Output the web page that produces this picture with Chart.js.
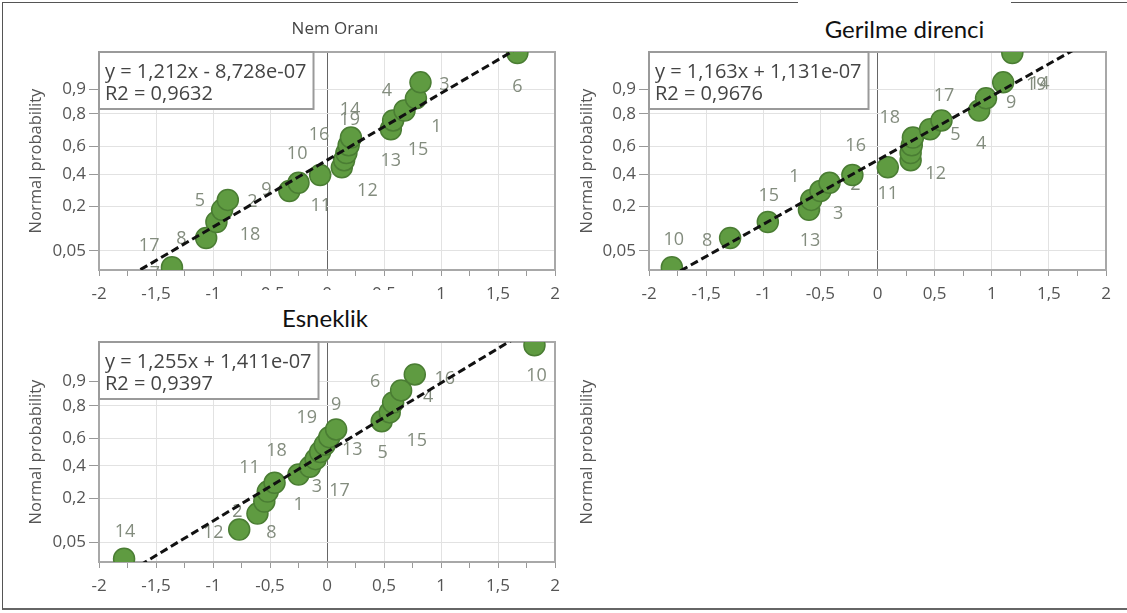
<!DOCTYPE html>
<html>
<head>
<meta charset="utf-8">
<script src="https://cdn.jsdelivr.net/npm/chart.js@4.4.1/dist/chart.umd.min.js"></script>
<style>
  html, body { margin: 0; padding: 0; background: #fff; }
  body { width: 1127px; height: 613px; position: relative; overflow: hidden; font-family: "Open Sans", sans-serif; }
  .frame { position: absolute; left: 2px; top: 2px; width: 1130px; height: 605px; border-left: 1px solid #555; border-top: 1px solid #555; border-bottom: 2px solid #666; }
  canvas { position: absolute; }
  .title { position: absolute; color: #444; font-size: 17px; }
  .patch { position: absolute; background: #fff; font-family: Lato, sans-serif; font-size: 24px; color: #111; text-align: center; }
</style>
</head>
<body>
<div class="frame"></div>
<canvas id="c1" width="570" height="320" style="left:0;top:0"></canvas>
<canvas id="c2" width="567" height="320" style="left:560px;top:0"></canvas>
<canvas id="c3" width="570" height="313" style="left:0;top:300px"></canvas>
<canvas id="c4" width="567" height="313" style="left:560px;top:300px"></canvas>
<div class="title" style="left:275px;top:16px;width:120px;text-align:center">Nem Oranı</div>
<div class="patch" style="left:798px;top:0;width:213px;height:51px;line-height:58px">Gerilme direnci</div>
<div class="patch" style="left:232px;top:290px;width:186px;height:50px;line-height:56px">Esneklik</div>
<script>
// normal quantiles of the 19 ranked residuals (y positions)
const zScores = [-1.94, -1.41, -1.12, -0.90, -0.72, -0.56, -0.41, -0.27, -0.13, 0, 0.13, 0.27, 0.41, 0.56, 0.72, 0.90, 1.12, 1.41, 1.94];

// probability ticks and their z positions
const yTickZ = [-1.645, -0.842, -0.253, 0.253, 0.842, 1.282];
const yTickLabels = ["0,05", "0,2", "0,4", "0,6", "0,8", "0,9"];

// Nem Oranı
const nemX = [-1.36, -1.06, -0.97, -0.92, -0.87, -0.33, -0.25, -0.06, 0.13, 0.15, 0.17, 0.19, 0.21, 0.56, 0.58, 0.68, 0.78, 0.82, 1.67];
const nemIds = ["7", "17", "8", "18", "5", "2", "9", "10", "11", "16", "12", "19", "14", "13", "15", "1", "4", "3", "6"];
const nemEq = ["y = 1,212x - 8,728e-07", "R2 = 0,9632"];
const nemFit = [1.212, -8.728e-7];

// Gerilme direnci
const gerX = [-1.80, -1.29, -0.96, -0.60, -0.58, -0.50, -0.42, -0.22, 0.09, 0.29, 0.29, 0.30, 0.31, 0.46, 0.56, 0.89, 0.95, 1.10, 1.18];
const gerIds = ["10", "8", "15", "13", "3", "", "1", "2", "11", "16", "12", "18", "", "17", "5", "4", "9", "19", "14"];
const gerEq = ["y = 1,163x + 1,131e-07", "R2 = 0,9676"];
const gerFit = [1.163, 1.131e-7];

// Esneklik
const esnX = [-1.78, -0.77, -0.61, -0.55, -0.52, -0.46, -0.25, -0.15, -0.10, -0.06, -0.02, 0.02, 0.08, 0.48, 0.55, 0.58, 0.65, 0.77, 1.82];
const esnIds = ["14", "12", "8", "2", "1", "11", "18", "3", "17", "", "19", "13", "9", "5", "15", "6", "4", "16", "10"];
const esnEq = ["y = 1,255x + 1,411e-07", "R2 = 0,9397"];
const esnFit = [1.255, 1.411e-7];

// label placement next to each point (px)
const nemOffsets = [[-17,7],[-57,8],[-35,17],[28,25],[-28,1],[-37,11],[-32,7],[-23,-21],[-21,39],[-25,-25],[21,38],[1,-25],[-1,-28],[0,32],[25,29],[32,16],[-29,-7],[24,3],[0,34]];
const gerOffsets = [[2,-27],[-23,3],[1,-26],[1,31],[27,14],[0,0],[-35,-6],[3,10],[0,27],[-55,-14],[25,21],[-22,-27],[0,0],[14,-33],[14,14],[2,33],[25,5],[33,3],[27,31]];
const esnOffsets = [[1,-27],[-26,3],[14,19],[-27,10],[31,13],[-25,-15],[-22,-24],[7,20],[24,32],[0,0],[-18,-27],[23,13],[0,-25],[1,32],[27,28],[-18,-21],[27,6],[30,4],[2,31]];

const FONT = "'Open Sans', sans-serif";
const fmt = (v) => String(Math.round(v * 100) / 100).replace(".", ",");
const isHalf = (v) => Math.abs(v * 2 - Math.round(v * 2)) < 1e-6;

const plotBorder = {
  id: "plotBorder",
  beforeDatasetsDraw(chart) {
    const { ctx, chartArea: a } = chart;
    ctx.save();
    ctx.strokeStyle = "#a8a8a8";
    ctx.lineWidth = 2;
    ctx.strokeRect(a.left, a.top, a.right - a.left, a.bottom - a.top);
    ctx.restore();
  }
};

const idLabels = {
  id: "idLabels",
  beforeDatasetsDraw(chart, args, opts) {
    const { ctx, chartArea: a } = chart;
    const meta = chart.getDatasetMeta(1);
    ctx.save();
    ctx.beginPath();
    ctx.rect(a.left, a.top, a.right - a.left, a.bottom - a.top);
    ctx.clip();
    ctx.font = "18px " + FONT;
    ctx.fillStyle = "#838c7e";
    ctx.textAlign = "center";
    ctx.textBaseline = "middle";
    meta.data.forEach((pt, i) => {
      const t = opts.ids[i];
      if (!t) return;
      const o = opts.offsets[i];
      ctx.fillText(t, pt.x + o[0], pt.y + o[1]);
    });
    ctx.restore();
  }
};

const eqBox = {
  id: "eqBox",
  afterDatasetsDraw(chart, args, opts) {
    const { ctx, chartArea: a } = chart;
    ctx.save();
    ctx.font = "20px " + FONT;
    const w = Math.max(...opts.lines.map((l) => ctx.measureText(l).width)) + 13;
    const h = 57;
    ctx.fillStyle = "#fff";
    ctx.fillRect(a.left, a.top, w, h);
    ctx.strokeStyle = "#9a9a9a";
    ctx.lineWidth = 2;
    ctx.strokeRect(a.left, a.top, w, h);
    ctx.fillStyle = "#444";
    ctx.textBaseline = "middle";
    ctx.fillText(opts.lines[0], a.left + 6, a.top + 20);
    ctx.fillText(opts.lines[1], a.left + 6, a.top + 42);
    ctx.restore();
  }
};

function makePanel(id, xs, ids, offsets, eq, fit, box) {
  const pts = xs.map((x, i) => ({ x: x, y: zScores[i] }));
  const line = [-2, 2].map((x) => ({ x: x, y: fit[0] * x + fit[1] }));
  return new Chart(document.getElementById(id), {
    type: "scatter",
    data: {
      datasets: [
        {
          type: "line",
          data: line,
          borderColor: "#111",
          borderWidth: 3,
          borderDash: [8, 4],
          pointRadius: 0,
          fill: false
        },
        {
          data: pts,
          backgroundColor: "#5f9b41",
          borderColor: "#4a7d33",
          borderWidth: 1.5,
          pointRadius: 10.5
        }
      ]
    },
    options: {
      responsive: false,
      animation: false,
      devicePixelRatio: 1,
      layout: { padding: { left: 0, top: box.top, right: box.right, bottom: 0 } },
      plugins: {
        legend: { display: false },
        tooltip: { enabled: false },
        idLabels: { ids: ids, offsets: offsets },
        eqBox: { lines: eq }
      },
      scales: {
        x: {
          type: "linear",
          min: -2,
          max: 2,
          afterFit: (s) => { s.height = box.xh; },
          border: { display: false },
          grid: {
            color: (c) => (c.tick && Math.abs(c.tick.value) < 1e-6 ? "#666" : isHalf(c.tick ? c.tick.value : 0) ? "#e2e2e2" : "rgba(0,0,0,0)"),
            tickColor: "#999",
            tickLength: 6
          },
          ticks: {
            stepSize: 0.25,
            autoSkip: false,
            maxRotation: 0,
            padding: 8,
            color: "#555",
            font: { family: FONT, size: 17 },
            callback: (v) => (isHalf(v) ? fmt(v) : "")
          }
        },
        y: {
          type: "linear",
          min: box.ymin,
          max: box.ymax,
          afterFit: (s) => { s.width = box.yw; },
          afterBuildTicks: (s) => { s.ticks = yTickZ.map((v) => ({ value: v })); },
          border: { display: false },
          grid: { color: "#e2e2e2", tickColor: "#999", tickLength: 10 },
          ticks: {
            padding: 3,
            color: "#555",
            font: { family: FONT, size: 17 },
            callback: (v) => yTickLabels[yTickZ.indexOf(v)]
          },
          title: {
            display: true,
            text: "Normal probability",
            color: "#555",
            font: { family: FONT, size: 16.5 },
            padding: { top: box.tp, bottom: 0 }
          }
        }
      }
    },
    plugins: [plotBorder, idLabels, eqBox]
  });
}

makePanel("c1", nemX, nemIds, nemOffsets, nemEq, nemFit,
  { top: 52, right: 15, xh: 50, yw: 99, tp: 26, ymin: -1.99, ymax: 1.96 });
makePanel("c2", gerX, gerIds, gerOffsets, gerEq, gerFit,
  { top: 52, right: 21, xh: 50, yw: 89, tp: 17, ymin: -1.99, ymax: 1.96 });
makePanel("c3", esnX, esnIds, esnOffsets, esnEq, esnFit,
  { top: 42, right: 15, xh: 51, yw: 99, tp: 26, ymin: -2, ymax: 2 });

// empty fourth panel: only its axis title is left
new Chart(document.getElementById("c4"), {
  type: "scatter",
  data: { datasets: [{ data: [] }] },
  options: {
    responsive: false,
    animation: false,
    devicePixelRatio: 1,
    layout: { padding: { top: 42, bottom: 51, right: 21 } },
    plugins: { legend: { display: false }, tooltip: { enabled: false } },
    scales: {
      x: { display: false },
      y: {
        afterFit: (s) => { s.width = 89; },
        border: { display: false },
        grid: { display: false },
        ticks: { display: false },
        title: {
          display: true,
          text: "Normal probability",
          color: "#555",
          font: { family: FONT, size: 16.5 },
          padding: { top: 17, bottom: 0 }
        }
      }
    }
  }
});
</script>
</body>
</html>
